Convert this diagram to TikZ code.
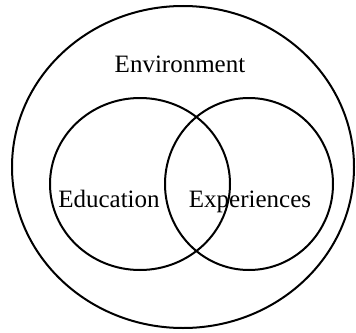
\documentclass[tikz,border=0pt]{standalone}
\usepackage{fontspec}
\setmainfont{Liberation Serif}
\begin{document}
\begin{tikzpicture}[x=1pt,y=-1pt,
  ring/.style={draw=black,line width=2pt},
  label/.style={anchor=base,inner sep=0pt,font=\fontsize{25}{30}\selectfont}]
\useasboundingbox (0,0) rectangle (356,332);
% outer environment
\draw[ring] (183,167) ellipse [x radius=171, y radius=161];
% two overlapping sets
\draw[ring] (140,184) ellipse [x radius=90, y radius=86];
\draw[ring] (249,184) ellipse [x radius=84, y radius=86];
\node[label] (env) at (180,72) {Environment};
\node[label] (edu) at (109,207) {Education};
\node[label] (exp) at (250,207) {Experiences};
\end{tikzpicture}
\end{document}
